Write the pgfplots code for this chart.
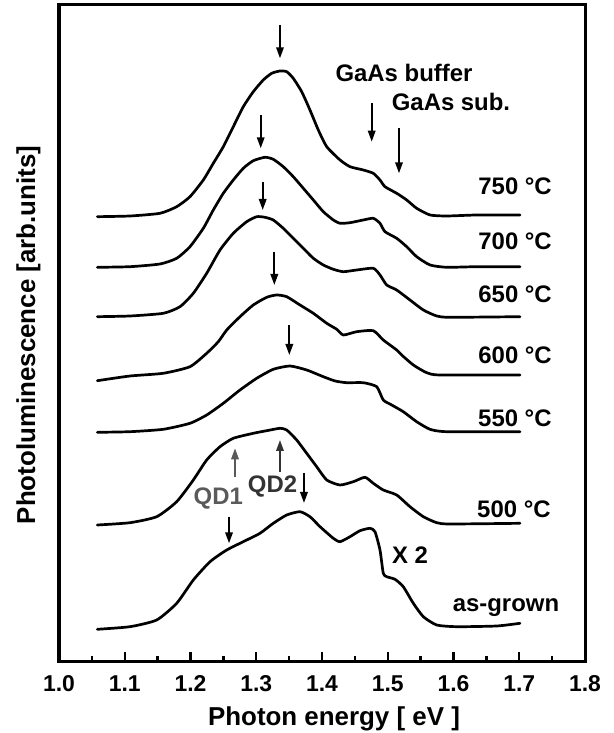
\documentclass[border=0pt]{standalone}
\usepackage{fontspec}
\setmainfont{Liberation Sans}
\usepackage{pgfplots}
\pgfplotsset{compat=1.18}
\usetikzlibrary{arrows.meta}
\definecolor{qdone}{HTML}{5A5A5A}
\definecolor{qdtwo}{HTML}{333333}
\tikzset{arr/.style={line width=1.8bp,-{Triangle[length=11bp,width=7.5bp]}},
         lab/.style={font=\fontsize{24}{28}\selectfont\bfseries, inner sep=0pt},
         curve/.style={black, solid, line width=2.7bp, mark=none, smooth, tension=0.35, line join=round, line cap=round}}
\begin{document}
\begin{tikzpicture}
\path[use as bounding box] (0,0) rectangle (614bp,733bp);
\begin{axis}[
  at={(59bp,71bp)}, anchor=south west,
  scale only axis, width=526bp, height=657bp,
  xmin=1.0, xmax=1.8, ymin=0, ymax=657,
  clip=false,
  axis line style={line width=3bp},
  xtick={1.0,1.1,1.2,1.3,1.4,1.5,1.6,1.7,1.8},
  xticklabels={1.0,1.1,1.2,1.3,1.4,1.5,1.6,1.7,1.8},
  minor xtick={1.05,1.15,1.25,1.35,1.45,1.55,1.65,1.75},
  ytick=\empty,
  tick align=inside, xtick pos=left,
  major tick length=10bp, minor tick length=6bp,
  tick style={line width=2.4bp, black},
  xticklabel style={font=\fontsize{23}{27}\selectfont\bfseries, anchor=base, yshift=-29.7bp},
]
% 750 C
\addplot[curve] coordinates {(1.0583,445.3) (1.1080,446) (1.1536,448.7) (1.1790,455.3) (1.1992,465.3) (1.2195,482) (1.2347,498.7) (1.2499,515.3) (1.2651,535.3) (1.2803,555.3) (1.2955,570.3) (1.3107,582) (1.3235,588.7) (1.3361,591) (1.3463,590.3) (1.3563,583.7) (1.3691,570.3) (1.3817,552) (1.3944,532) (1.4072,515.3) (1.4274,502) (1.4426,495.3) (1.4628,492) (1.4780,488.7) (1.4882,482) (1.4958,475.3) (1.5136,468.7) (1.5288,462) (1.5440,453.7) (1.5643,447) (1.5897,446) (1.6353,447) (1.7011,447)};
% 700 C
\addplot[curve] coordinates {(1.0583,394.7) (1.1080,395.3) (1.1536,398) (1.1790,403.7) (1.1992,415.3) (1.2195,433.7) (1.2347,452) (1.2499,468.7) (1.2651,482) (1.2803,493.7) (1.2955,501.3) (1.3133,504.7) (1.3259,502.7) (1.3411,495.3) (1.3563,485.3) (1.3716,473.7) (1.3868,462) (1.4020,450.3) (1.4172,442) (1.4274,438.7) (1.4426,439.3) (1.4628,442) (1.4780,443.7) (1.4882,438.7) (1.4958,430.3) (1.5136,423.7) (1.5288,415.3) (1.5440,405.3) (1.5643,397) (1.5897,394.7) (1.6353,395.3) (1.7011,395.3)};
% 650 C
\addplot[curve] coordinates {(1.0583,345.3) (1.1080,346) (1.1586,348.7) (1.1840,355.3) (1.2043,368.7) (1.2246,388.7) (1.2449,412) (1.2651,428.7) (1.2855,440.3) (1.3007,445.3) (1.3133,444.7) (1.3259,442) (1.3411,433.7) (1.3563,423.7) (1.3716,413.7) (1.3868,403.7) (1.4020,397) (1.4172,392.7) (1.4324,390.3) (1.4528,392) (1.4780,393.7) (1.4882,387) (1.4984,377) (1.5136,372) (1.5338,362) (1.5541,352) (1.5745,346) (1.5947,344.7) (1.7011,345.3)};
% 600 C
\addplot[curve] coordinates {(1.0583,281.3) (1.1080,286) (1.1586,288.7) (1.1992,295.3) (1.2246,308.7) (1.2423,320.3) (1.2551,332) (1.2753,345.3) (1.2955,357) (1.3159,364.7) (1.3311,367) (1.3463,365.3) (1.3665,357) (1.3868,348.7) (1.4072,338.7) (1.4224,332.7) (1.4324,327) (1.4528,330.3) (1.4780,331.3) (1.4932,322) (1.5136,312) (1.5212,307) (1.5389,297) (1.5592,289.3) (1.5795,287) (1.7011,287)};
% 550 C
\addplot[curve] coordinates {(1.0583,229.7) (1.1080,230.3) (1.1586,232.7) (1.1992,238.7) (1.2246,247) (1.2499,258.7) (1.2753,272) (1.3007,283.7) (1.3259,292.7) (1.3513,296) (1.3767,292) (1.4020,285.3) (1.4200,281) (1.4376,279.3) (1.4628,279.3) (1.4832,275.3) (1.4932,262) (1.5060,257) (1.5236,250.3) (1.5440,240.3) (1.5643,232.7) (1.5897,230.3) (1.7011,230.3)};
% 500 C
\addplot[curve] coordinates {(1.0583,137) (1.1080,139.3) (1.1486,145.3) (1.1790,160.3) (1.2043,182) (1.2246,202) (1.2449,215.3) (1.2651,223.7) (1.2955,228.7) (1.3159,231.3) (1.3361,233.7) (1.3463,232) (1.3615,222) (1.3767,208.7) (1.3919,195.3) (1.4072,182) (1.4274,177) (1.4476,180.3) (1.4654,184.7) (1.4780,178.7) (1.4932,172) (1.5136,167) (1.5338,155.3) (1.5541,145.3) (1.5745,139.3) (1.5947,138) (1.7011,138.7)};
% as-grown
\addplot[curve] coordinates {(1.0583,32.7) (1.1080,35.3) (1.1486,42) (1.1790,58.7) (1.2043,82) (1.2297,100.3) (1.2551,112) (1.2855,122) (1.3057,128.7) (1.3259,138.7) (1.3463,147) (1.3665,150.3) (1.3817,145.3) (1.3970,135.3) (1.4172,123.7) (1.4274,120.3) (1.4426,125.3) (1.4578,131.3) (1.4730,133.7) (1.4806,130.3) (1.4882,112) (1.4932,88.7) (1.4984,85.3) (1.5110,82.7) (1.5236,75.3) (1.5389,58.7) (1.5541,45.3) (1.5745,37) (1.6049,35.3) (1.6657,36) (1.7011,38.7)};
% arrows
\draw[arr] (axis cs:1.3361,637) -- (axis cs:1.3361,603.7);
\draw[arr] (axis cs:1.3068,547) -- (axis cs:1.3068,513.7);
\draw[arr] (axis cs:1.3098,480.3) -- (axis cs:1.3098,452);
\draw[arr] (axis cs:1.3275,410.3) -- (axis cs:1.3275,377);
\draw[arr] (axis cs:1.3503,337) -- (axis cs:1.3503,307);
\draw[arr] (axis cs:1.4756,558.7) -- (axis cs:1.4756,520.3);
\draw[arr] (axis cs:1.5171,533.7) -- (axis cs:1.5171,488.7);
\draw[arr, qdone] (axis cs:1.2677,185.3) -- (axis cs:1.2677,213.7);
\draw[arr, qdtwo] (axis cs:1.3361,190.3) -- (axis cs:1.3361,222);
\draw[arr] (axis cs:1.3726,189) -- (axis cs:1.3726,159);
\draw[arr] (axis cs:1.2586,145.3) -- (axis cs:1.2586,118.7);
% labels
\node[lab] at (axis cs:1.5247,589) {GaAs buffer};
\node[lab] at (axis cs:1.5962,560) {GaAs sub.};
\node[lab, anchor=east] at (axis cs:1.7498,476) {750 °C};
\node[lab, anchor=east] at (axis cs:1.7498,421) {700 °C};
\node[lab, anchor=east] at (axis cs:1.7498,368) {650 °C};
\node[lab, anchor=east] at (axis cs:1.7498,307) {600 °C};
\node[lab, anchor=east] at (axis cs:1.7495,243.5) {550 °C};
\node[lab, anchor=east] at (axis cs:1.7480,153) {500 °C};
\node[lab] at (axis cs:1.5338,107) {X 2};
\node[lab] at (axis cs:1.6798,54.5) {as-grown};
\node[lab, text=qdone] at (axis cs:1.2423,163) {QD1};
\node[lab, text=qdtwo] at (axis cs:1.3247,175) {QD2};
\end{axis}
\node[rotate=90, anchor=base, font=\fontsize{26}{30}\selectfont\bfseries, inner sep=0pt] at (35bp,398bp) {Photoluminescence [arb.units]};
\node[anchor=base, font=\fontsize{26}{30}\selectfont\bfseries, inner sep=0pt] at (334bp,8bp) {Photon energy [ eV ]};
\end{tikzpicture}
\end{document}
